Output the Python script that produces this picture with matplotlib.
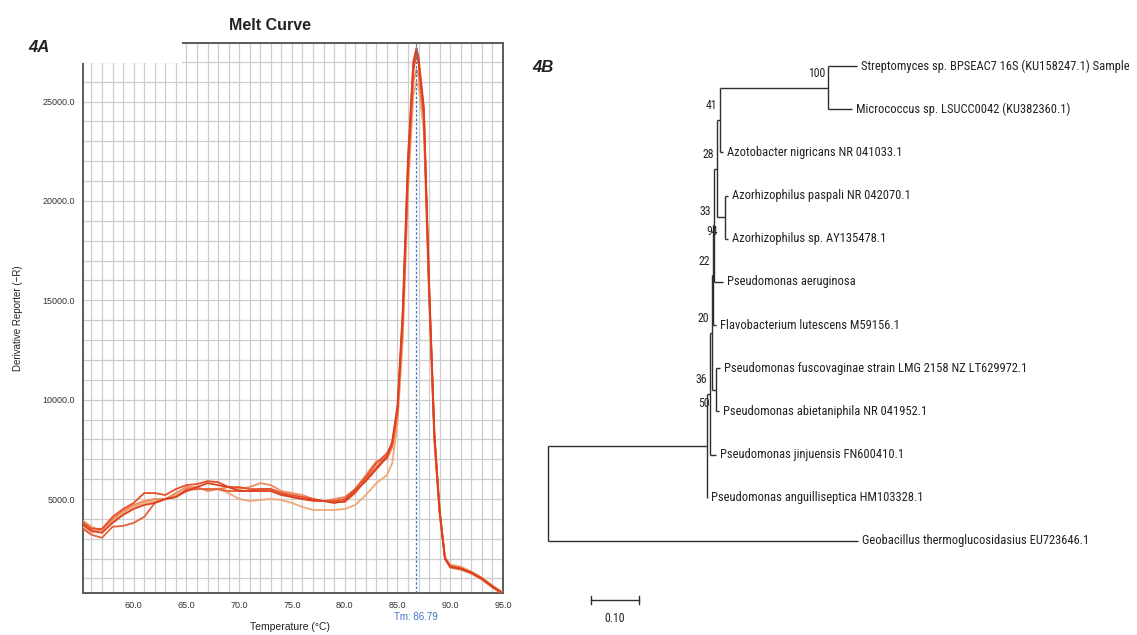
"""Melt curve (4A) and phylogenetic tree (4B) side by side."""
import matplotlib
matplotlib.use("Agg")
import matplotlib.pyplot as plt
from matplotlib.patches import Rectangle
from matplotlib.ticker import MultipleLocator, FormatStrFormatter

SANS = ["Liberation Sans", "DejaVu Sans"]
NARROW = ["Roboto Condensed", "DejaVu Sans"]
INK = "#222222"; GRID = "#cdcdcd"; SPINE = "#5a5a5a"; TM_BLUE = "#3f74c6"

# ---------------- 4A: melt curve data ----------------
temps = [55.2, 56, 57, 58, 59, 60, 61, 62, 63, 64, 65, 66, 67, 68, 69, 70, 71, 72,
         73, 74, 75, 76, 77, 78, 79, 80, 81, 82, 83, 84, 84.5, 85, 85.5, 86, 86.5,
         86.8, 87, 87.5, 88, 88.5, 89, 89.5, 90, 91, 92, 93, 94, 95]

curve_a = [3800, 3500, 3500, 4100, 4500, 4800, 5300, 5300, 5200, 5500, 5700, 5750,
           5900, 5850, 5600, 5600, 5500, 5500, 5500, 5300, 5200, 5100, 5000, 4900,
           4900, 5000, 5500, 6100, 6800, 7300,
           7800, 9500, 14000, 21500, 26500, 27500, 27000, 24500, 15500, 8000, 4300,
           2000, 1600, 1500, 1300, 1000, 600, 250]
curve_b = [3600, 3300, 3500, 3900, 4300, 4600, 4800, 4900, 5000, 5200, 5400, 5500,
           5500, 5500, 5300, 5000, 4900, 4950, 5000, 4950, 4800, 4600, 4450, 4450,
           4450, 4500, 4700, 5200, 5800, 6200,
           6800, 8800, 13000, 20500, 25300, 26000, 25800, 23500, 15000, 7800, 4200,
           2100, 1700, 1600, 1350, 1050, 650, 300]
curve_c = [3500, 3200, 3050, 3600, 3650, 3800, 4100, 4800, 5000, 5100, 5500, 5500,
           5500, 5500, 5400, 5400, 5400, 5500, 5500, 5300, 5100, 5000, 4900, 4900,
           4850, 4850, 5300, 6000, 6600, 7200,
           7700, 9400, 14200, 22000, 26800, 27300, 26900, 24300, 15800, 8200, 4400,
           2000, 1550, 1450, 1250, 950, 550, 200]
curve_d = [3900, 3600, 3400, 4000, 4400, 4700, 4900, 5000, 5000, 5300, 5600, 5600,
           5400, 5500, 5600, 5500, 5600, 5800, 5700, 5400, 5300, 5200, 5000, 4900,
           5000, 5100, 5500, 6200, 6900, 7000,
           7600, 9200, 13600, 21000, 26000, 26600, 26300, 24000, 15300, 8100, 4300,
           2050, 1650, 1550, 1300, 1000, 600, 250]
curve_e = [3700, 3400, 3300, 3800, 4200, 4500, 4700, 4800, 5000, 5100, 5400, 5600,
           5800, 5700, 5600, 5400, 5400, 5400, 5400, 5200, 5100, 5000, 4950, 4900,
           4800, 4900, 5400, 5900, 6500, 7100,
           7900, 9700, 14500, 22200, 27000, 27700, 27200, 24700, 15700, 8300, 4400,
           2000, 1600, 1500, 1300, 1000, 600, 250]
curves = [curve_b, curve_d, curve_c, curve_a, curve_e]
curve_colors = ["#f0a878", "#ec8a5c", "#e3623a", "#e8502a", "#dc4020"]
tm_value = 86.79

# ---------------- 4B: tree data ----------------
tip_order = ["Strep", "Micro", "Azoto", "AzP", "AzS", "Paer", "Flavo",
             "Fusco", "Abiet", "Jinju", "Anguil", "Geo"]
tip_labels = {
    "Strep": "Streptomyces sp. BPSEAC7 16S (KU158247.1) Sample",
    "Micro": "Micrococcus sp. LSUCC0042 (KU382360.1)",
    "Azoto": "Azotobacter nigricans NR 041033.1",
    "AzP": "Azorhizophilus paspali NR 042070.1",
    "AzS": "Azorhizophilus sp. AY135478.1",
    "Paer": "Pseudomonas aeruginosa",
    "Flavo": "Flavobacterium lutescens M59156.1",
    "Fusco": "Pseudomonas fuscovaginae strain LMG 2158 NZ LT629972.1",
    "Abiet": "Pseudomonas abietaniphila NR 041952.1",
    "Jinju": "Pseudomonas jinjuensis FN600410.1",
    "Anguil": "Pseudomonas anguilliseptica HM103328.1",
    "Geo": "Geobacillus thermoglucosidasius EU723646.1",
}
children = {
    "root": ["S6", "Geo"],
    "S6": ["S5", "Anguil"],
    "S5": ["S4", "Jinju"],
    "S4": ["S3", "FA"],
    "FA": ["Fusco", "Abiet"],
    "S3": ["S2", "Flavo"],
    "S2": ["S1", "Paer"],
    "S1": ["N41", "AzPair"],
    "AzPair": ["AzP", "AzS"],
    "N41": ["N100", "Azoto"],
    "N100": ["Strep", "Micro"],
}
branch_len = {
    "Geo": 0.646, "S6": 0.331, "Anguil": 0.001, "S5": 0.006, "Jinju": 0.0125,
    "S4": 0.004, "FA": 0.010, "Fusco": 0.008, "Abiet": 0.006, "S3": 0.002,
    "Flavo": 0.006, "S2": 0.002, "Paer": 0.019, "S1": 0.008, "AzPair": 0.015,
    "AzP": 0.006, "AzS": 0.006, "N41": 0.006, "Azoto": 0.006, "N100": 0.225,
    "Strep": 0.060, "Micro": 0.050,
}
support = {"N100": 100, "N41": 41, "S1": 28, "S2": 33, "AzPair": 94, "S3": 22,
           "S4": 20, "S5": 36, "FA": 50}
label_below = {"AzPair", "FA"}
scale_len = 0.10

# ---------------- figure ----------------
fig = plt.figure(figsize=(11.37, 6.35), dpi=100)
W, H = 1137, 635

def px_axes(x0, y0, x1, y1):
    return fig.add_axes([x0 / W, 1 - y1 / H, (x1 - x0) / W, (y1 - y0) / H])

ax = px_axes(83, 43, 503, 593)
for vals, col in zip(curves, curve_colors):
    ax.plot(temps, vals, color=col, lw=1.3, zorder=3)
ax.axvline(tm_value, color=TM_BLUE, lw=0.9, ls=(0, (2, 1.5)), zorder=4)
ax.set_xlim(55.2, 95.0)
ax.set_ylim(270, 27950)
ax.xaxis.set_major_locator(MultipleLocator(5))
ax.xaxis.set_minor_locator(MultipleLocator(1))
ax.yaxis.set_major_locator(MultipleLocator(5000))
ax.yaxis.set_minor_locator(MultipleLocator(1000))
ax.xaxis.set_major_formatter(FormatStrFormatter("%.1f"))
ax.yaxis.set_major_formatter(FormatStrFormatter("%.1f"))
ax.grid(which="both", color=GRID, lw=0.9, zorder=0)
ax.set_axisbelow(True)
ax.tick_params(which="both", length=0, labelsize=6.5, labelcolor="#333333", pad=6)
for t in ax.get_xticklabels() + ax.get_yticklabels():
    t.set_family(SANS)
for sp in ax.spines.values():
    sp.set_color(SPINE); sp.set_linewidth(1.4)
ax.set_ylabel("Derivative Reporter (\u2212R)", fontsize=7, family=SANS, color=INK, labelpad=14)
fig.text(290 / W, 1 - 627 / H, "Temperature (\u00b0C)", fontsize=7.5, family=SANS,
         color=INK, ha="center", va="center")
ax.text(tm_value, -0.044, f"Tm: {tm_value:.2f}", transform=ax.get_xaxis_transform(),
        ha="center", va="center", fontsize=7, color=TM_BLUE, family=SANS)

# white corner covering the top-left of the plot, as in the original panel
fig.patches.append(Rectangle((0, 1 - 63 / H), 182 / W, 22 / H, transform=fig.transFigure,
                             facecolor="white", edgecolor="none", zorder=10))
fig.text(270 / W, 1 - 25 / H, "Melt Curve", fontsize=11.5, fontweight="bold",
         family=SANS, ha="center", va="center", color=INK)
fig.text(28 / W, 1 - 48 / H, "4A", fontsize=12, fontweight="bold", style="italic",
         family=SANS, ha="left", va="center", color=INK, zorder=11)

# ---------------- 4B: tree ----------------
tx = px_axes(530, 0, W, H)
tx.axis("off")
PX = 480.0  # pixels per substitution unit
tx.set_xlim((530 - 548) / PX, (W - 548) / PX)
ty0, tdy = 66.0, 43.18
tx.set_ylim((H - ty0) / tdy, (0 - ty0) / tdy)

xpos, ypos = {}, {}
for i, name in enumerate(tip_order):
    ypos[name] = i

def place(node, x):
    xpos[node] = x
    for c in children.get(node, []):
        place(c, x + branch_len[c])
    if node in children:
        kids = children[node]
        ypos[node] = (ypos[kids[0]] + ypos[kids[-1]]) / 2

place("root", 0.0)

LINE = "#2e2e2e"
for node, kids in children.items():
    ys = [ypos[k] for k in kids]
    tx.plot([xpos[node], xpos[node]], [min(ys), max(ys)], color=LINE, lw=1.0,
            solid_capstyle="butt")
    for k in kids:
        tx.plot([xpos[node], xpos[k]], [ypos[k], ypos[k]], color=LINE, lw=1.0,
                solid_capstyle="butt")

for name in tip_order:
    tx.text(xpos[name] + 4 / PX, ypos[name], tip_labels[name], fontsize=9.0,
            family=NARROW, stretch="condensed", ha="left", va="center", color=INK)

for node, val in support.items():
    if node in label_below:
        lx, ly = xpos[node] - 7 / PX, ypos[node] + 14 / tdy
    else:
        lx, ly = xpos[node] - 3 / PX, ypos[node] - 14 / tdy
    tx.text(lx, ly, str(val), fontsize=8.5, family=NARROW, stretch="condensed",
            ha="right", va="center", color=INK)

# scale bar
sb_x0 = (591 - 548) / PX
sb_y = (600 - ty0) / tdy
tx.plot([sb_x0, sb_x0 + scale_len], [sb_y, sb_y], color=LINE, lw=1.0)
for xx in (sb_x0, sb_x0 + scale_len):
    tx.plot([xx, xx], [sb_y - 0.1, sb_y + 0.1], color=LINE, lw=1.0)
tx.text(sb_x0 + scale_len / 2, sb_y + 0.42, f"{scale_len:.2f}", fontsize=8.5,
        family=NARROW, stretch="condensed", ha="center", va="center", color=INK)

fig.text(543 / W, 1 - 68 / H, "4B", fontsize=12, fontweight="bold", style="italic",
         family=SANS, ha="center", va="center", color=INK)

fig.savefig("out.png", dpi=100, facecolor="white")
